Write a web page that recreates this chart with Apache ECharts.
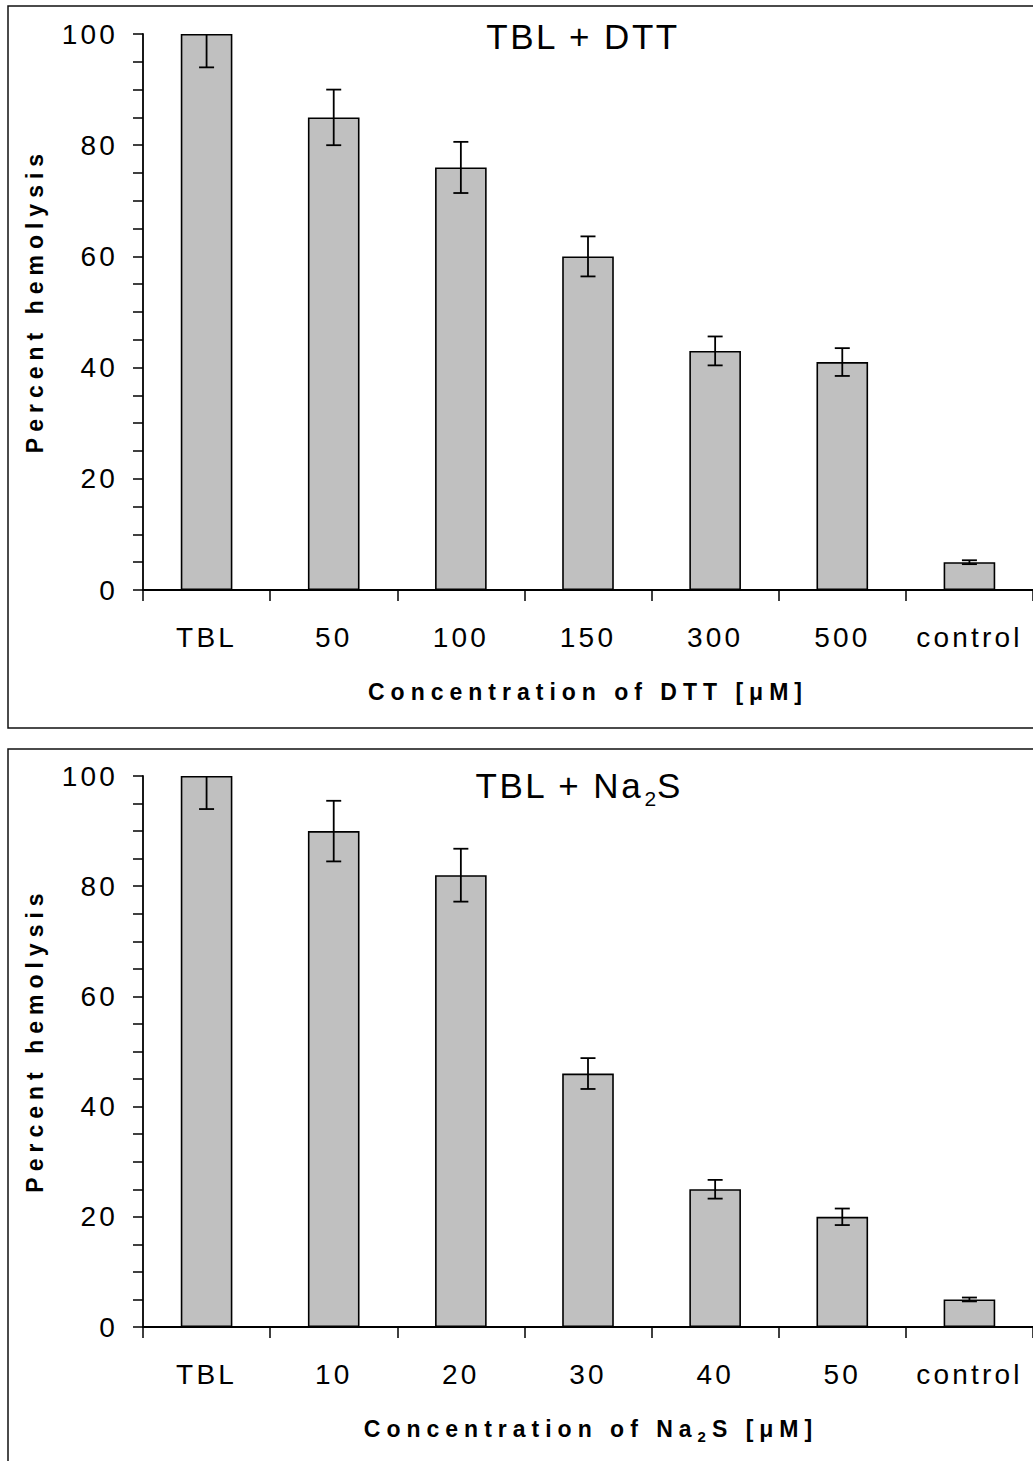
<!DOCTYPE html>
<html>
<head>
<meta charset="utf-8">
<script src="https://cdn.jsdelivr.net/npm/echarts@6/dist/echarts.min.js"></script>
<style>
  html, body { margin: 0; padding: 0; background: #fff; }
  #chart { width: 1033px; height: 1461px; }
</style>
</head>
<body>
<div id="chart"></div>
<script>
// ---- data ----
const dttCategories = ['TBL', '50', '100', '150', '300', '500', 'control'];
const dttValues = [100, 85, 76, 60, 43, 41, 5];
const dttErrors = [6, 5, 4.6, 3.6, 2.6, 2.5, 0.35];

const na2sCategories = ['TBL', '10', '20', '30', '40', '50', 'control'];
const na2sValues = [100, 90, 82, 46, 25, 20, 5];
const na2sErrors = [6, 5.5, 4.8, 2.8, 1.7, 1.5, 0.35];

const yMin = 0, yMax = 100, yStep = 20;

const topTitle = 'TBL + DTT';
const bottomTitle = '{a|TBL + Na}{s|2}{b|S}';
const topXName = 'Concentration of DTT [\u03bcM]';
const bottomXName = '{a|Concentration of Na}{s|2}{b|S [\u03bcM]}';
const yName = 'Percent hemolysis';

// ---- styling ----
const FONT = 'Arial, "Liberation Sans", sans-serif';
const INK = '#000';
const SP_BOLD = 6, SP_TITLE = 2.5, SP_LABEL = 3.2;

function errData(values, errs) {
  return values.map((v, i) => [i, v, errs[i]]);
}

function renderErr(params, api) {
  const x = api.value(0), v = api.value(1), e = api.value(2);
  const hi = api.coord([x, v + e]);
  const lo = api.coord([x, v - e]);
  const hw = 7.5;
  const st = { stroke: INK, lineWidth: 1.8 };
  return {
    type: 'group',
    children: [
      { type: 'line', shape: { x1: hi[0], y1: hi[1], x2: lo[0], y2: lo[1] }, style: st },
      { type: 'line', shape: { x1: hi[0] - hw, y1: hi[1], x2: hi[0] + hw, y2: hi[1] }, style: st },
      { type: 'line', shape: { x1: lo[0] - hw, y1: lo[1], x2: lo[0] + hw, y2: lo[1] }, style: st }
    ]
  };
}

const nameRich = {
  a: { align: 'left', fontFamily: FONT, fontSize: 23, fontWeight: 'bold', color: INK, lineHeight: 30, padding: [0, 19 * SP_BOLD, 0, 0] },
  s: { align: 'left', fontFamily: FONT, fontSize: 15, fontWeight: 'bold', color: INK, lineHeight: 15, verticalAlign: 'bottom', padding: [0, SP_BOLD, 0, 0] },
  b: { align: 'left', fontFamily: FONT, fontSize: 23, fontWeight: 'bold', color: INK, lineHeight: 30, padding: [0, 5 * SP_BOLD, 0, 0] }
};

function xAxisFor(gridIndex, cats, name, gap) {
  return {
    type: 'category', gridIndex, data: cats, boundaryGap: true,
    axisLine: { show: true, lineStyle: { color: INK, width: 1.8 } },
    axisTick: { show: true, length: 11, inside: false, lineStyle: { color: INK, width: 1.5 } },
    axisLabel: { color: INK, fontFamily: FONT, fontSize: 28, margin: 33, interval: 0 },
    name, nameLocation: 'middle', nameGap: gap,
    nameTextStyle: { color: INK, fontFamily: FONT, fontSize: 23, fontWeight: 'bold', rich: nameRich },
    splitLine: { show: false }
  };
}

function yAxisFor(gridIndex) {
  return {
    type: 'value', gridIndex, min: yMin, max: yMax, interval: yStep,
    axisLine: { show: true, lineStyle: { color: INK, width: 1.8 } },
    axisTick: { show: true, length: 10, inside: false, lineStyle: { color: INK, width: 1.5 } },
    minorTick: { show: true, splitNumber: 4, length: 10, lineStyle: { color: INK, width: 1.5 } },
    axisLabel: { color: INK, fontFamily: FONT, fontSize: 28, margin: 25 },
    splitLine: { show: false },
    name: yName, nameLocation: 'middle', nameRotate: 90, nameGap: 97,
    nameTextStyle: { color: INK, fontFamily: FONT, fontSize: 23, fontWeight: 'bold', padding: [0, 0, 0, 23] }
  };
}

function barSeries(idx, values) {
  return {
    type: 'bar', xAxisIndex: idx, yAxisIndex: idx, data: values, barWidth: '40.6%',
    itemStyle: { color: '#c0c0c0', borderColor: INK, borderWidth: 1.6 },
    silent: true, animation: false
  };
}

function errSeries(idx, values, errs) {
  return {
    type: 'custom', xAxisIndex: idx, yAxisIndex: idx, data: errData(values, errs),
    renderItem: renderErr, clip: true, silent: true, animation: false, z: 5
  };
}

const chart = echarts.init(document.getElementById('chart'), null, { renderer: 'svg' });
chart.setOption({
  backgroundColor: '#fff',
  animation: false,
  grid: [
    { left: 143, right: -6, top: 34, height: 556 },
    { left: 143, right: -6, top: 776, height: 551 }
  ],
  xAxis: [xAxisFor(0, dttCategories, topXName, 90), xAxisFor(1, na2sCategories, bottomXName, 87)],
  yAxis: [yAxisFor(0), yAxisFor(1)],
  series: [
    barSeries(0, dttValues), errSeries(0, dttValues, dttErrors),
    barSeries(1, na2sValues), errSeries(1, na2sValues, na2sErrors)
  ],
  graphic: [
    { type: 'rect', shape: { x: 8, y: 6, width: 1040, height: 722 }, style: { fill: 'none', stroke: '#111', lineWidth: 1.5 }, silent: true },
    { type: 'rect', shape: { x: 8, y: 749, width: 1040, height: 730 }, style: { fill: 'none', stroke: '#111', lineWidth: 1.5 }, silent: true },
    { type: 'text', x: 583, y: 36, style: { text: topTitle, fill: INK, font: '35px ' + FONT, align: 'center', verticalAlign: 'middle' }, silent: true },
    { type: 'text', x: 578, y: 785, style: {
        text: bottomTitle, fill: INK, font: '35px ' + FONT, align: 'center', verticalAlign: 'middle',
        rich: {
          a: { align: 'left', fontFamily: FONT, fontSize: 35, fill: INK, lineHeight: 48, padding: [0, 8 * SP_TITLE, 0, 0] },
          s: { align: 'left', fontFamily: FONT, fontSize: 21, fill: INK, lineHeight: 21, verticalAlign: 'bottom', padding: [0, 1, 0, 0] },
          b: { align: 'left', fontFamily: FONT, fontSize: 35, fill: INK, lineHeight: 48 }
        }
      }, silent: true }
  ]
});

function applySpacing() {
  document.querySelectorAll('#chart svg text').forEach(t => {
    const cs = getComputedStyle(t);
    const fs = parseFloat(cs.fontSize);
    const w = parseInt(cs.fontWeight, 10) || (cs.fontWeight === 'bold' ? 700 : 400);
    let ls = 0;
    if (w >= 600) ls = SP_BOLD;
    else if (fs >= 33) ls = SP_TITLE;
    else if (fs >= 26) ls = SP_LABEL;
    t.style.letterSpacing = ls + 'px';
  });
}
applySpacing();
chart.on('finished', applySpacing);
</script>
</body>
</html>
